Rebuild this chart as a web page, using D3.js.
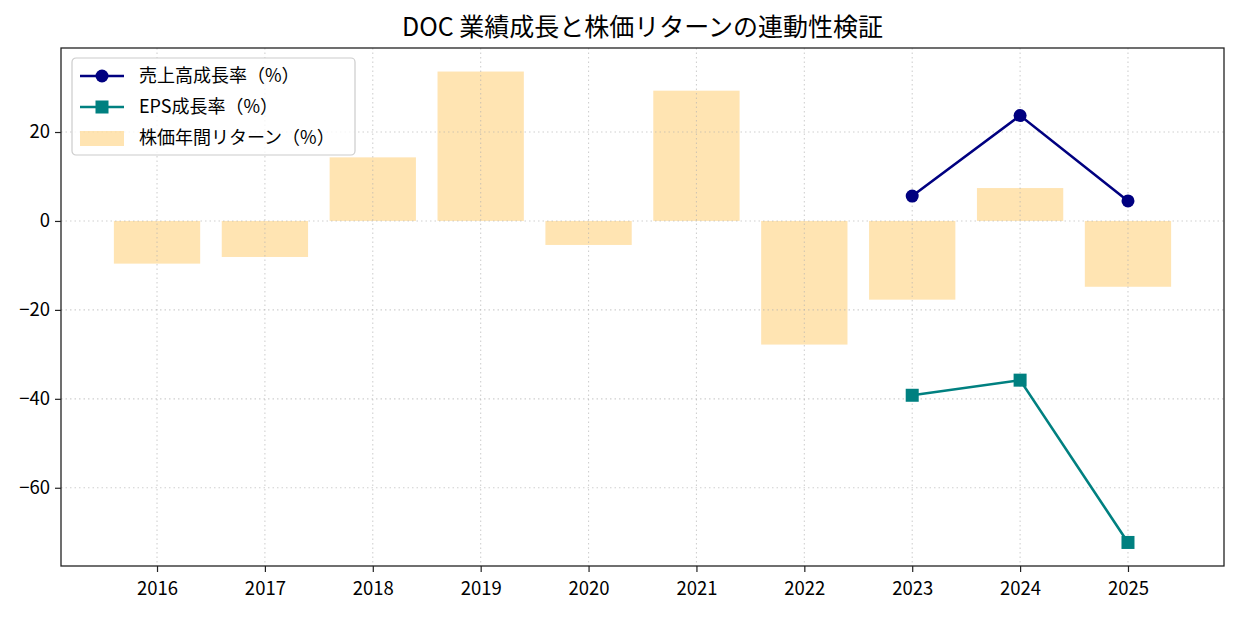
<!DOCTYPE html>
<html>
<head>
<meta charset="utf-8">
<script src="https://cdn.jsdelivr.net/npm/d3@7"></script>
<style>
  body { margin: 0; background: #fff; }
  svg text { font-family: "Noto Sans CJK JP", "Noto Sans", sans-serif; fill: #000; }
</style>
</head>
<body>
<div id="chart"></div>
<script>
// data
const years = [2016, 2017, 2018, 2019, 2020, 2021, 2022, 2023, 2024, 2025];
const stockReturn = [-9.6, -8.1, 14.3, 33.6, -5.4, 29.3, -27.8, -17.7, 7.4, -14.8];
const revYears = [2023, 2024, 2025];
const revGrowth = [5.6, 23.7, 4.5];
const epsYears = [2023, 2024, 2025];
const epsGrowth = [-39.2, -35.8, -72.3];
const yTicks = [-60, -40, -20, 0, 20];

const titleText = "DOC 業績成長と株価リターンの連動性検証";
const labels = ["売上高成長率（%）", "EPS成長率（%）", "株価年間リターン（%）"];

const W = 1238, H = 617;
const margin = {top: 48, right: 14, bottom: 51, left: 61};
const iw = W - margin.left - margin.right;
const ih = H - margin.top - margin.bottom;

const svg = d3.select("#chart").append("svg")
    .attr("width", W).attr("height", H);

// x: bars are 0.8 wide, 5% padding like matplotlib
const barW = 0.8;
const xlo = d3.min(years) - barW / 2, xhi = d3.max(years) + barW / 2;
const xpad = (xhi - xlo) * 0.05;
const x = d3.scaleLinear().domain([xlo - xpad, xhi + xpad]).range([0, iw]);

const allY = stockReturn.concat(revGrowth, epsGrowth, [0]);
const ylo = d3.min(allY), yhi = d3.max(allY);
const ypad = (yhi - ylo) * 0.05;
const y = d3.scaleLinear().domain([ylo - ypad, yhi + ypad]).range([ih, 0]);

const g = svg.append("g").attr("transform", `translate(${margin.left},${margin.top})`);

// bars
g.selectAll("rect.bar")
  .data(years.map((yr, i) => ({yr, v: stockReturn[i]})))
  .join("rect")
  .attr("class", "bar")
  .attr("x", d => x(d.yr - barW / 2))
  .attr("width", d => x(d.yr + barW / 2) - x(d.yr - barW / 2))
  .attr("y", d => y(Math.max(0, d.v)))
  .attr("height", d => Math.abs(y(d.v) - y(0)))
  .attr("fill", "orange").attr("fill-opacity", 0.3);

// grid (above bars, below lines)
const grid = g.append("g");
grid.selectAll("line.gx").data(years).join("line")
  .attr("x1", d => x(d)).attr("x2", d => x(d))
  .attr("y1", 0).attr("y2", ih);
grid.selectAll("line.gy").data(yTicks).join("line")
  .attr("y1", d => y(d)).attr("y2", d => y(d))
  .attr("x1", 0).attr("x2", iw);
grid.selectAll("line")
  .attr("stroke", "#b0b0b0").attr("stroke-opacity", 0.6)
  .attr("stroke-width", 1.1).attr("stroke-dasharray", "1.5,3");

// lines
const line = d3.line().x(d => x(d[0])).y(d => y(d[1]));
const revData = revYears.map((yr, i) => [yr, revGrowth[i]]);
const epsData = epsYears.map((yr, i) => [yr, epsGrowth[i]]);

g.append("path").datum(revData).attr("d", line)
  .attr("fill", "none").attr("stroke", "navy").attr("stroke-width", 2.6);
g.selectAll("circle.rev").data(revData).join("circle")
  .attr("cx", d => x(d[0])).attr("cy", d => y(d[1])).attr("r", 6.5)
  .attr("fill", "navy");

g.append("path").datum(epsData).attr("d", line)
  .attr("fill", "none").attr("stroke", "teal").attr("stroke-width", 2.6);
const sq = 13;
g.selectAll("rect.eps").data(epsData).join("rect")
  .attr("x", d => x(d[0]) - sq / 2).attr("y", d => y(d[1]) - sq / 2)
  .attr("width", sq).attr("height", sq).attr("fill", "teal");

// axes
const fmt = d => String(d).replace("-", "\u2212");
const xAxis = g.append("g").attr("transform", `translate(0,${ih})`)
  .call(d3.axisBottom(x).tickValues(years).tickFormat(d3.format("d")).tickSize(6).tickPadding(5));
const yAxis = g.append("g")
  .call(d3.axisLeft(y).tickValues(yTicks).tickFormat(fmt).tickSize(6).tickPadding(5));
[xAxis, yAxis].forEach(a => {
  a.select(".domain").remove();
  a.selectAll(".tick line").attr("stroke", "#222").attr("stroke-width", 1.2);
  a.selectAll(".tick text").attr("font-size", 18.5).attr("fill", "#000");
});
xAxis.selectAll(".tick text").attr("dy", "0.95em");

// frame
g.append("rect").attr("width", iw).attr("height", ih)
  .attr("fill", "none").attr("stroke", "#222").attr("stroke-width", 1.3);

// title
svg.append("text")
  .attr("x", margin.left + iw / 2).attr("y", 36)
  .attr("text-anchor", "middle").attr("font-size", 25)
  .text(titleText);

// legend
const lg = g.append("g").attr("transform", "translate(11,10)");
lg.append("rect").attr("width", 283).attr("height", 97).attr("rx", 4)
  .attr("fill", "#fff").attr("fill-opacity", 0.8)
  .attr("stroke", "#ccc").attr("stroke-width", 1.2);
const rowY = [18, 49, 80];
const ent = lg.selectAll("g.ent").data(labels).join("g")
  .attr("transform", (d, i) => `translate(0,${rowY[i]})`);
ent.append("text").attr("x", 67).attr("dy", "0.35em").attr("font-size", 18).text(d => d);

const e0 = ent.filter((d, i) => i === 0);
e0.append("line").attr("x1", 8).attr("x2", 52).attr("stroke", "navy").attr("stroke-width", 2.6);
e0.append("circle").attr("cx", 30).attr("r", 6.5).attr("fill", "navy");
const e1 = ent.filter((d, i) => i === 1);
e1.append("line").attr("x1", 8).attr("x2", 52).attr("stroke", "teal").attr("stroke-width", 2.6);
e1.append("rect").attr("x", 30 - sq / 2).attr("y", -sq / 2).attr("width", sq).attr("height", sq).attr("fill", "teal");
const e2 = ent.filter((d, i) => i === 2);
e2.append("rect").attr("x", 8).attr("y", -7).attr("width", 44).attr("height", 15)
  .attr("fill", "orange").attr("fill-opacity", 0.3);
</script>
</body>
</html>
